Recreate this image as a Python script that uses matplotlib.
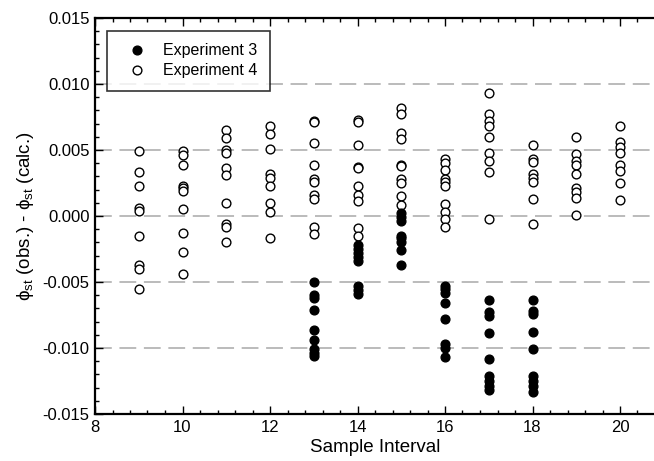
"""Residual scatter: phi_st (obs.) - phi_st (calc.) per sample interval, Exp. 3 vs Exp. 4."""
import matplotlib.pyplot as plt
from matplotlib.ticker import MultipleLocator, FormatStrFormatter

plt.rcParams["font.family"] = ["Liberation Sans", "DejaVu Sans"]
plt.rcParams["mathtext.fontset"] = "custom"
plt.rcParams["mathtext.rm"] = "Liberation Sans"
plt.rcParams["mathtext.it"] = "Liberation Sans:italic"

# Experiment 3 (filled) residuals, by sample interval
exp3 = {
    13: [-0.0050, -0.0060, -0.0062, -0.0071, -0.0086, -0.0094, -0.0101, -0.0104, -0.0106],
    14: [-0.0022, -0.0025, -0.0028, -0.0031, -0.0034, -0.0053, -0.0056, -0.0059],
    15: [0.0002, -0.0001, -0.0004, -0.0015, -0.0017, -0.0020, -0.0026, -0.0037],
    16: [-0.0053, -0.0055, -0.0058, -0.0066, -0.0078, -0.0097, -0.0100, -0.0107],
    17: [-0.0064, -0.0073, -0.0076, -0.0089, -0.0108, -0.0121, -0.0125, -0.0129, -0.0132],
    18: [-0.0064, -0.0072, -0.0074, -0.0088, -0.0101, -0.0121, -0.0125, -0.0129, -0.0133],
}

# Experiment 4 (open) residuals, by sample interval
exp4 = {
    9: [0.0049, 0.0033, 0.0023, 0.0006, 0.0004, -0.0015, -0.0037, -0.0040, -0.0055],
    10: [0.0049, 0.0046, 0.0039, 0.0023, 0.0021, 0.0019, 0.0005, -0.0013, -0.0027, -0.0044],
    11: [0.0065, 0.0059, 0.0050, 0.0048, 0.0036, 0.0031, 0.0010, -0.0006, -0.0008, -0.0020],
    12: [0.0068, 0.0062, 0.0051, 0.0032, 0.0029, 0.0023, 0.0010, 0.0003, -0.0017],
    13: [0.0072, 0.0071, 0.0055, 0.0039, 0.0028, 0.0026, 0.0016, 0.0013, -0.0008, -0.0014],
    14: [0.0073, 0.0071, 0.0054, 0.0037, 0.0036, 0.0023, 0.0016, 0.0011, -0.0009, -0.0015],
    15: [0.0082, 0.0077, 0.0063, 0.0058, 0.0039, 0.0038, 0.0028, 0.0025, 0.0015, 0.0008],
    16: [0.0043, 0.0040, 0.0035, 0.0028, 0.0026, 0.0023, 0.0009, 0.0003, -0.0002, -0.0008],
    17: [0.0093, 0.0077, 0.0072, 0.0068, 0.0060, 0.0048, 0.0042, 0.0033, -0.0002],
    18: [0.0054, 0.0043, 0.0041, 0.0032, 0.0029, 0.0026, 0.0013, -0.0006],
    19: [0.0060, 0.0047, 0.0042, 0.0039, 0.0032, 0.0021, 0.0018, 0.0014, 0.0001],
    20: [0.0068, 0.0056, 0.0052, 0.0048, 0.0039, 0.0034, 0.0025, 0.0012],
}


def _flatten(groups):
    xs, ys = [], []
    for k, vals in groups.items():
        xs.extend([k] * len(vals))
        ys.extend(vals)
    return xs, ys


fig = plt.figure(figsize=(6.54, 4.61), dpi=100)
ax = fig.add_axes([95 / 654, 47 / 461, 560 / 654, 396 / 461])

for y in (-0.010, -0.005, 0.0, 0.005, 0.010):
    ax.axhline(y, color="#a8a8a8", linewidth=1.1, dashes=(11, 5), zorder=0)

x3, y3 = _flatten(exp3)
x4, y4 = _flatten(exp4)
ax.plot(x3, y3, "o", color="black", markersize=6.3, label="Experiment 3", zorder=3)
ax.plot(x4, y4, "o", markerfacecolor="white", markeredgecolor="black",
        markeredgewidth=1.0, markersize=6.3, label="Experiment 4", zorder=2)

ax.set_xlim(8, 20.8)
ax.set_ylim(-0.015, 0.015)
ax.xaxis.set_major_locator(MultipleLocator(2))
ax.xaxis.set_minor_locator(MultipleLocator(0.4))
ax.yaxis.set_major_locator(MultipleLocator(0.005))
ax.yaxis.set_minor_locator(MultipleLocator(0.001))
ax.yaxis.set_major_formatter(FormatStrFormatter("%.3f"))
ax.tick_params(which="both", direction="in", top=True, right=False,
               labelsize=12, width=1.0, pad=4)
ax.tick_params(which="major", length=6)
ax.tick_params(which="minor", length=3)

for side in ("left", "top", "bottom"):
    ax.spines[side].set_linewidth(1.6)
ax.spines["right"].set_visible(False)

ax.set_xlabel("Sample Interval", fontsize=13.5, labelpad=3)
ax.set_ylabel("\u03d5$_{\\rm st}$ (obs.) - \u03d5$_{\\rm st}$ (calc.)",
              fontsize=13.5, labelpad=5)

leg = ax.legend(loc="upper left", bbox_to_anchor=(0.021, 0.968), borderaxespad=0,
                fontsize=11.5, frameon=True, fancybox=False, handletextpad=0.5,
                borderpad=0.8, labelspacing=0.3, handlelength=2.2)
leg.get_frame().set_edgecolor("black")
leg.get_frame().set_linewidth(1.2)

fig.savefig("out.png", dpi=100)
